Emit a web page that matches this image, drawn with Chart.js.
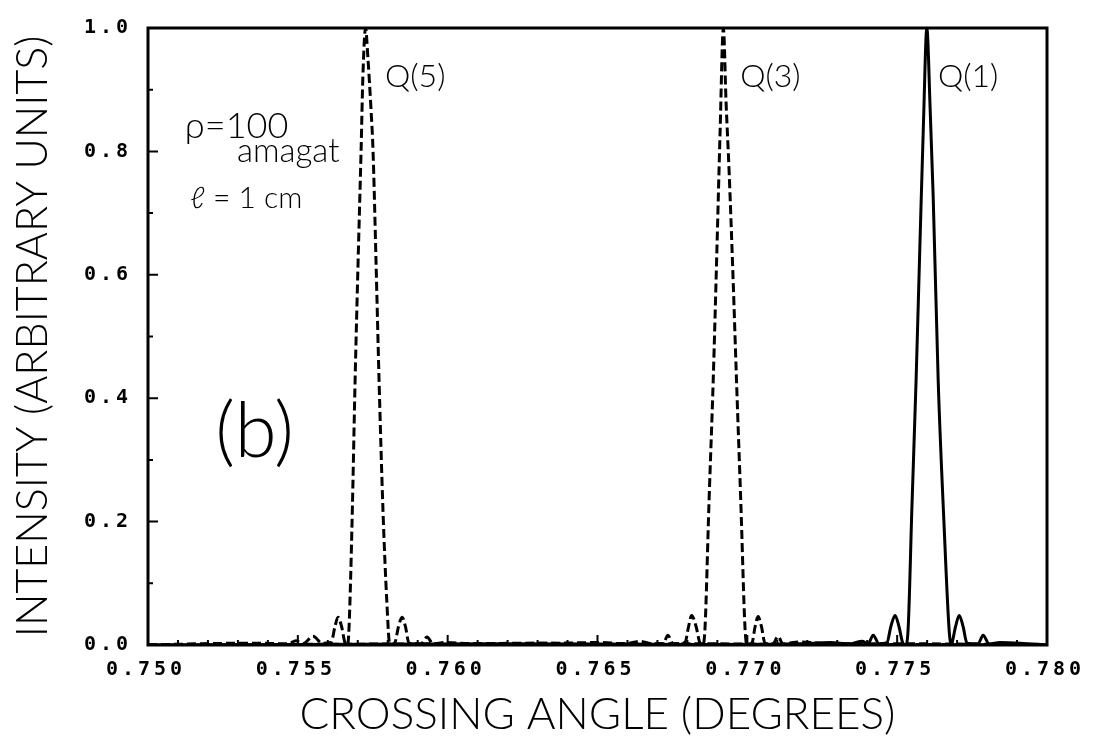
<!DOCTYPE html>
<html>
<head>
<meta charset="utf-8">
<script src="https://cdn.jsdelivr.net/npm/chart.js@4.4.1/dist/chart.umd.min.js"></script>
<style>
  html, body { margin: 0; padding: 0; background: #fff; }
</style>
</head>
<body>
<canvas id="grafica" width="1093" height="744"></canvas>
<script>
// ============================
// Datos
// ============================
const anguloQ5 = [0.75000, 0.75174, 0.75340, 0.75467, 0.75494, 0.75517, 0.75551, 0.75581, 0.75611, 0.75624,
  0.75634, 0.75646, 0.75657, 0.75666, 0.75671, 0.75681, 0.75691, 0.75701, 0.75711, 0.75717,
  0.75726, 0.75734, 0.75744, 0.75751, 0.75761, 0.75771, 0.75784, 0.75797, 0.75807, 0.75824,
  0.75836, 0.75848, 0.75859, 0.75871, 0.75911, 0.75931, 0.75951, 0.75991, 0.76075, 0.76241,
  0.76508, 0.76842, 0.77176, 0.77509, 0.78000];
const intensidadQ5 = [0.000, 0.002, 0.003, 0.002, 0.007, 0.002, 0.014, 0.003, 0.004, 0.030,
  0.045, 0.030, 0.004, 0.000, 0.030, 0.200, 0.427, 0.620, 0.800, 0.920,
  1.000, 0.950, 0.870, 0.800, 0.620, 0.430, 0.220, 0.070, 0.000, 0.004,
  0.030, 0.045, 0.030, 0.003, 0.002, 0.013, 0.002, 0.004, 0.002, 0.003,
  0.002, 0.002, 0.001, 0.001, 0.000];

const anguloQ3 = [0.75000, 0.75507, 0.76008, 0.76375, 0.76508, 0.76592, 0.76642, 0.76682, 0.76719, 0.76735,
  0.76752, 0.76792, 0.76804, 0.76814, 0.76829, 0.76842, 0.76852, 0.76859, 0.76872, 0.76886,
  0.76899, 0.76909, 0.76920, 0.76929, 0.76939, 0.76952, 0.76964, 0.76979, 0.76992, 0.76999,
  0.77016, 0.77026, 0.77036, 0.77047, 0.77059, 0.77086, 0.77102, 0.77119, 0.77176, 0.77276,
  0.77509, 0.78000];
const intensidadQ3 = [0.000, 0.001, 0.002, 0.003, 0.004, 0.002, 0.006, 0.002, 0.002, 0.016,
  0.002, 0.004, 0.030, 0.048, 0.030, 0.003, 0.000, 0.030, 0.230, 0.427,
  0.650, 0.830, 1.000, 0.880, 0.770, 0.600, 0.427, 0.220, 0.030, 0.000,
  0.004, 0.030, 0.046, 0.030, 0.003, 0.002, 0.014, 0.002, 0.005, 0.002,
  0.002, 0.000];

const anguloQ1 = [0.75000, 0.75507, 0.76175, 0.76842, 0.77176, 0.77276, 0.77343, 0.77383, 0.77403, 0.77420,
  0.77439, 0.77466, 0.77479, 0.77493, 0.77506, 0.77519, 0.77529, 0.77537, 0.77549, 0.77563,
  0.77576, 0.77588, 0.77599, 0.77610, 0.77620, 0.77637, 0.77656, 0.77674, 0.77680, 0.77683,
  0.77695, 0.77707, 0.77720, 0.77733, 0.77770, 0.77787, 0.77806, 0.77843, 0.77910, 0.78000];
const intensidadQ1 = [0.000, 0.001, 0.002, 0.001, 0.002, 0.004, 0.002, 0.006, 0.002, 0.016,
  0.002, 0.004, 0.030, 0.048, 0.030, 0.003, 0.000, 0.030, 0.220, 0.427,
  0.650, 0.850, 1.000, 0.870, 0.730, 0.427, 0.200, 0.020, 0.000, 0.003,
  0.030, 0.048, 0.030, 0.003, 0.002, 0.016, 0.002, 0.004, 0.003, 0.000];

// marcas de los ejes
const xMarcasMayores = [0.750, 0.755, 0.760, 0.765, 0.770, 0.775, 0.780];
const xMarcasMenores = [0.751, 0.752, 0.753, 0.754, 0.756, 0.757, 0.758, 0.759, 0.761, 0.762, 0.763, 0.764,
  0.766, 0.767, 0.768, 0.769, 0.771, 0.772, 0.773, 0.774, 0.776, 0.777, 0.778, 0.779];
const yMarcasMayores = [0.0, 0.2, 0.4, 0.6, 0.8, 1.0];
const yMarcasMenores = [0.1, 0.3, 0.5, 0.7, 0.9];

function puntos(xs, ys) {
  return xs.map((v, i) => ({ x: v, y: ys[i] }));
}

const fuenteTexto = 'Lato, "Open Sans", sans-serif';
const fuenteMarcas = '"DejaVu Sans Mono", monospace';

// espaciado ancho solo para las etiquetas de las marcas (se dibujan después de las curvas, z = 1)
const espaciado = {
  id: 'espaciado',
  beforeDraw(chart) { chart.ctx.letterSpacing = '0px'; },
  afterDatasetsDraw(chart) { chart.ctx.letterSpacing = '4px'; }
};

// ============================
// Marco, marcas interiores y anotaciones
// ============================
const marcoYNotas = {
  id: 'marcoYNotas',
  afterDraw(chart) {
    const { ctx, chartArea: a, scales: { x, y } } = chart;
    ctx.letterSpacing = '0px';
    ctx.save();
    ctx.strokeStyle = '#000';
    ctx.lineWidth = 2;
    ctx.beginPath();
    xMarcasMayores.forEach(v => { const px = x.getPixelForValue(v); ctx.moveTo(px, a.bottom); ctx.lineTo(px, a.bottom - 10); });
    xMarcasMenores.forEach(v => { const px = x.getPixelForValue(v); ctx.moveTo(px, a.bottom); ctx.lineTo(px, a.bottom - 5); });
    yMarcasMayores.forEach(v => { const py = y.getPixelForValue(v); ctx.moveTo(a.left, py); ctx.lineTo(a.left + 10, py); });
    yMarcasMenores.forEach(v => { const py = y.getPixelForValue(v); ctx.moveTo(a.left, py); ctx.lineTo(a.left + 5, py); });
    ctx.stroke();

    ctx.lineWidth = 3;
    ctx.strokeRect(a.left, a.top, a.right - a.left, a.bottom - a.top);

    // anotaciones
    ctx.fillStyle = '#000';
    ctx.textBaseline = 'alphabetic';
    ctx.textAlign = 'left';
    const nota = (t, vx, vy, size) => {
      ctx.font = `300 ${size}px ${fuenteTexto}`;
      ctx.fillText(t, x.getPixelForValue(vx), y.getPixelForValue(vy));
    };
    nota('Q(5)', 0.75791, 0.905, 32);
    nota('Q(3)', 0.76976, 0.905, 32);
    nota('Q(1)', 0.77636, 0.905, 32);
    nota('ρ=100', 0.75123, 0.821, 36);
    nota('amagat', 0.75297, 0.783, 33);
    nota('ℓ = 1 cm', 0.75140, 0.7085, 30);
    nota('(b)', 0.75224, 0.305, 76);
    ctx.restore();
  }
};

// ============================
// Gráfica
// ============================
const ctx = document.getElementById('grafica').getContext('2d');
const grafica = new Chart(ctx, {
  type: 'line',
  data: {
    datasets: [
      {
        label: 'Q(5)',
        data: puntos(anguloQ5, intensidadQ5),
        borderColor: '#000',
        borderWidth: 3,
        borderDash: [9, 4],
        pointRadius: 0,
        cubicInterpolationMode: 'monotone'
      },
      {
        label: 'Q(3)',
        data: puntos(anguloQ3, intensidadQ3),
        borderColor: '#000',
        borderWidth: 3,
        borderDash: [9, 4],
        pointRadius: 0,
        cubicInterpolationMode: 'monotone'
      },
      {
        label: 'Q(1)',
        data: puntos(anguloQ1, intensidadQ1),
        borderColor: '#000',
        borderWidth: 3,
        pointRadius: 0,
        cubicInterpolationMode: 'monotone'
      }
    ]
  },
  options: {
    responsive: false,
    animation: false,
    devicePixelRatio: 1,
    layout: { padding: { top: 24, right: 46, left: 0, bottom: 0 } },
    plugins: { legend: { display: false }, tooltip: { enabled: false } },
    scales: {
      x: {
        type: 'linear',
        min: 0.75,
        max: 0.78,
        afterFit: s => { s.height = 99; },
        afterBuildTicks: s => { s.ticks = xMarcasMayores.map(v => ({ value: v })); },
        ticks: {
          callback: v => v.toFixed(3),
          color: '#000',
          padding: 13,
          labelOffset: -2,
          z: 1,
          maxRotation: 0,
          autoSkip: false,
          font: { family: fuenteMarcas, size: 20, weight: 'bold' }
        },
        grid: { display: false, drawTicks: false },
        border: { display: false },
        title: {
          display: true,
          text: 'CROSSING ANGLE (DEGREES)',
          color: '#000',
          padding: { bottom: 3 },
          font: { family: fuenteTexto, size: 44, weight: 300 }
        }
      },
      y: {
        min: 0,
        max: 1.0,
        afterFit: s => { s.width = 148; },
        afterBuildTicks: s => { s.ticks = yMarcasMayores.map(v => ({ value: v })); },
        ticks: {
          callback: v => v.toFixed(1),
          color: '#000',
          padding: 16,
          z: 1,
          font: { family: fuenteMarcas, size: 20, weight: 'bold' }
        },
        grid: { display: false, drawTicks: false },
        border: { display: false },
        title: {
          display: true,
          text: 'INTENSITY (ARBITRARY UNITS)',
          color: '#000',
          padding: { top: 7 },
          font: { family: fuenteTexto, size: 43, weight: 300 }
        }
      }
    }
  },
  plugins: [espaciado, marcoYNotas]
});
</script>
</body>
</html>
